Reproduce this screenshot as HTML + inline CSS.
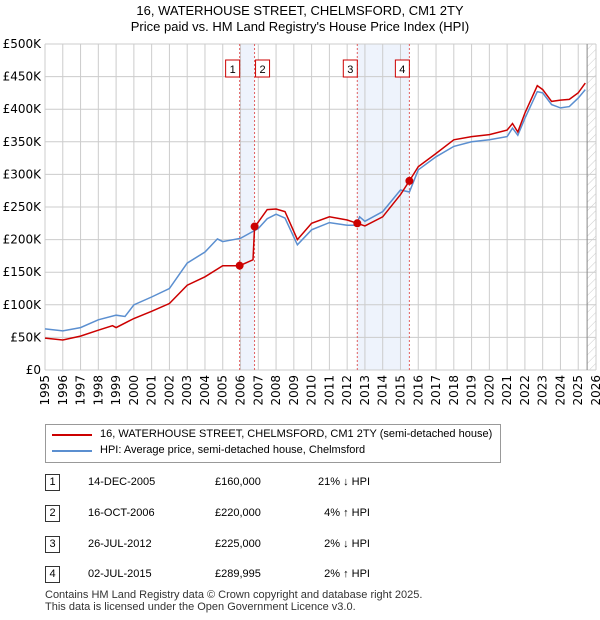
<!DOCTYPE html>
<html><head><meta charset="utf-8"><style>
body{margin:0;background:#fff;font-family:"Liberation Sans","DejaVu Sans",sans-serif;}
#wrap{position:relative;width:600px;height:620px;overflow:hidden;}
.t{position:absolute;font-size:12px;color:#000;}
</style></head><body><div id="wrap">
<div class="t" style="left:0;width:600px;top:3px;text-align:center;font-size:13px;line-height:16px">16, WATERHOUSE STREET, CHELMSFORD, CM1 2TY<br>Price paid vs. HM Land Registry's House Price Index (HPI)</div>
<svg id="chart" width="600" height="420" style="position:absolute;left:0;top:0"></svg>
<div style="position:absolute;left:45px;top:424px;width:454px;height:37px;border:1px solid #999;"></div>
<svg width="600" height="60" style="position:absolute;left:0;top:424px">
<line x1="52" y1="11" x2="92" y2="11" stroke="#cc0000" stroke-width="2"/>
<line x1="52" y1="27" x2="92" y2="27" stroke="#5b8fd0" stroke-width="2"/></svg>
<div class="t" style="left:100px;top:428px;font-size:11px">16, WATERHOUSE STREET, CHELMSFORD, CM1 2TY (semi-detached house)</div>
<div class="t" style="left:100px;top:444px;font-size:11px">HPI: Average price, semi-detached house, Chelmsford</div>
<div id="tbl"></div>
<div class="t" style="left:45px;top:589px;font-size:11px;line-height:12px;color:#333">Contains HM Land Registry data © Crown copyright and database right 2025.<br>This data is licensed under the Open Government Licence v3.0.</div>
</div>
<script>
const yearTicks=[1995,1996,1997,1998,1999,2000,2001,2002,2003,2004,2005,2006,2007,2008,2009,2010,2011,2012,2013,2014,2015,2016,2017,2018,2019,2020,2021,2022,2023,2024,2025,2026];
const valueTicks=[0,50000,100000,150000,200000,250000,300000,350000,400000,450000,500000];
const valueLabels=["£0","£50K","£100K","£150K","£200K","£250K","£300K","£350K","£400K","£450K","£500K"];
const hpiDates=[1995,1996,1997,1998,1999,1999.5,2000,2001,2002,2003,2004,2004.7,2005,2006,2007,2007.5,2008,2008.5,2009.2,2010,2011,2012,2012.5,2012.7,2013,2014,2015,2015.5,2016,2017,2018,2019,2020,2021,2021.3,2021.6,2022,2022.7,2023,2023.5,2024,2024.5,2025,2025.4];
const hpiValues=[63000,60000,65000,77000,84000,82000,100000,112000,125000,164000,181000,201000,197000,202000,217000,232000,239000,233000,192000,215000,226000,222000,222000,235000,228000,243000,276000,273000,307000,327000,343000,350000,353000,358000,371000,360000,386000,427000,425000,407000,402000,404000,417000,430000];
const ppDates=[1995,1996,1997,1998,1998.8,1999,2000,2001,2002,2003,2004,2005,2005.95,2006.7,2006.79,2007,2007.5,2008,2008.5,2009.2,2010,2011,2012,2012.57,2013,2014,2015,2015.5,2016,2017,2018,2019,2020,2021,2021.3,2021.6,2022,2022.7,2023,2023.5,2024,2024.5,2025,2025.4];
const ppValues=[49000,46000,52000,61000,68000,65000,79000,90000,102000,130000,143000,160000,160000,169000,220000,227000,246000,247000,243000,200000,225000,235000,230000,225000,221000,235000,269000,289995,312000,332000,353000,358000,361000,368000,378000,365000,394000,436000,430000,412000,414000,415000,425000,440000];
const saleDates=[2005.95,2006.79,2012.57,2015.5];
const salePrices=[160000,220000,225000,289995];
const saleLabels=["14-DEC-2005","16-OCT-2006","26-JUL-2012","02-JUL-2015"];
const salePriceText=["£160,000","£220,000","£225,000","£289,995"];
const saleHpiText=["21% ↓ HPI","4% ↑ HPI","2% ↓ HPI","2% ↑ HPI"];
const X0=45,X1=596,Y0=370,Y1=44;
const xs=d=>X0+(d-1995)/(2026-1995)*(X1-X0);
const ys=v=>Y0-v/500000*(Y0-Y1);
const NS="http://www.w3.org/2000/svg";
const svg=document.getElementById('chart');
function mk(tag,at,parent){const e=document.createElementNS(NS,tag);for(const k in at)e.setAttribute(k,at[k]);(parent||svg).appendChild(e);return e;}
[[0,1],[2,3]].forEach(p=>{const r=mk('rect',{x:xs(saleDates[p[0]]),y:Y1,width:xs(saleDates[p[1]])-xs(saleDates[p[0]]),height:Y0-Y1,fill:'#eef3fc'});

});
const defs=mk('defs',{});const pat=mk('pattern',{id:'h',width:6,height:6,patternUnits:'userSpaceOnUse',patternTransform:'rotate(45)'},defs);mk('line',{x1:0,y1:0,x2:0,y2:6,stroke:'#ccc','stroke-width':1},pat);
const hr=mk('rect',{x:xs(2025.5),y:Y1,width:X1-xs(2025.5),height:Y0-Y1,fill:'url(#h)'});


yearTicks.forEach(y=>{const x=xs(y);mk('line',{x1:x,y1:Y1,x2:x,y2:Y0,stroke:'#ccc','stroke-width':1});
const t=mk('text',{x:0,y:0,transform:`translate(${x+4},${Y0+5}) rotate(-90)`,'text-anchor':'end','font-size':12,'font-family':'DejaVu Sans, sans-serif',fill:'#000'});t.textContent=y;

});
valueTicks.forEach((v,i)=>{const y=ys(v);mk('line',{x1:X0,y1:y,x2:X1,y2:y,stroke:'#ccc','stroke-width':1});
const t=mk('text',{x:X0-4,y:y+4,'text-anchor':'end','font-size':12,'font-family':'DejaVu Sans, sans-serif',fill:'#000'});t.textContent=valueLabels[i];

});
mk('line',{x1:xs(2025.5),y1:Y1,x2:xs(2025.5),y2:Y0,stroke:'#888','stroke-width':1});
saleDates.forEach((d,i)=>{const x=xs(d);mk('line',{x1:x,y1:Y1,x2:x,y2:Y0,stroke:'#e06060','stroke-width':1,'stroke-dasharray':'2,2'});});
const hp=mk('path',{d:hpiDates.map((d,i)=>(i?'L':'M')+xs(d).toFixed(1)+','+ys(hpiValues[i]).toFixed(1)).join(''),fill:'none',stroke:'#5b8fd0','stroke-width':1.5});


const pp=mk('path',{d:ppDates.map((d,i)=>(i?'L':'M')+xs(d).toFixed(1)+','+ys(ppValues[i]).toFixed(1)).join(''),fill:'none',stroke:'#cc0000','stroke-width':1.5});


saleDates.forEach((d,i)=>{const c=mk('circle',{cx:xs(d),cy:ys(salePrices[i]),r:4,fill:'#cc0000'});


const bx=[xs(d)-14,xs(d)+1,xs(d)-14,xs(d)-14][i];
const g=mk('g',{});


mk('rect',{x:bx,y:60,width:14,height:17,fill:'#fff',stroke:'#cc0000'},g);
const t=mk('text',{x:bx+7,y:73,'text-anchor':'middle','font-size':11},g);t.textContent=i+1;});
const tbl=document.getElementById('tbl');
saleLabels.forEach((l,i)=>{const top=[474,505,536,566][i];
const r=document.createElement('div');


r.innerHTML=`<div class="t" style="left:45px;top:${top}px;width:13px;height:15px;border:1px solid #333;text-align:center;font-size:11px;line-height:15px">${i+1}</div>
<div class="t" style="left:88px;top:${top+2}px;font-size:11px">${l}</div>
<div class="t" style="left:215px;top:${top+2}px;font-size:11px">${salePriceText[i]}</div>
<div class="t" style="left:290px;top:${top+2}px;width:80px;text-align:right;font-size:11px">${saleHpiText[i]}</div>`;
tbl.appendChild(r);});
</script></body></html>
